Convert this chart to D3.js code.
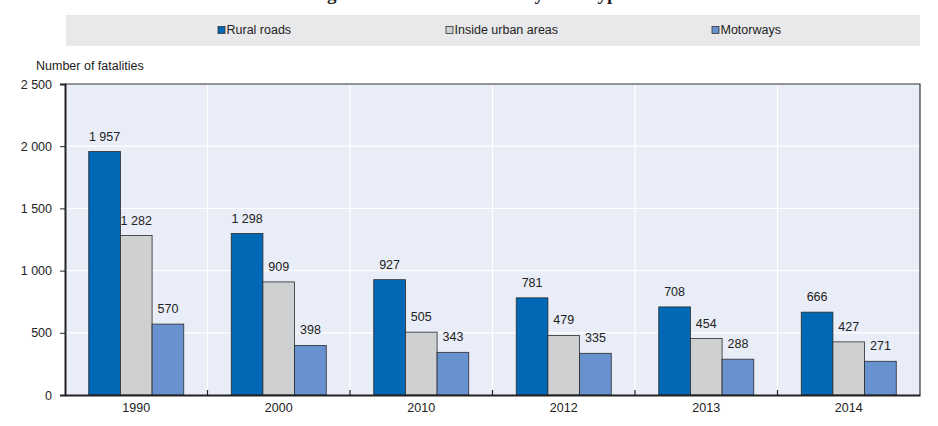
<!DOCTYPE html>
<html lang="en">
<head>
<meta charset="UTF-8">
<title>Road fatalities by road type</title>
<style>
    body { margin: 0; background: #fff; }
    svg text { font-family: "Liberation Sans", Arial, sans-serif; fill: #222; }
    svg text.title { font-family: "Liberation Serif", "DejaVu Serif", serif; font-weight: bold; }
</style>
</head>
<body>
<svg id="chart" width="938" height="426"></svg>
<script src="https://cdn.jsdelivr.net/npm/d3@7/dist/d3.min.js"></script>
<script>

var years = ["1990", "2000", "2010", "2012", "2013", "2014"];
var series = ["Rural roads", "Inside urban areas", "Motorways"];
var rural = [1957, 1298, 927, 781, 708, 666];
var urban = [1282, 909, 505, 479, 454, 427];
var motorways = [570, 398, 343, 335, 288, 271];
var yTicks = [0, 500, 1000, 1500, 2000, 2500];

var colors = ["#0068b5", "#cfd0d2", "#6892cf"];
var values = [rural, urban, motorways];

var svg = d3.select("#chart");
var mLeft = 65, mRight = 920, mTop = 84, mBottom = 395;

var fmt = function (d) {
    return d3.format(",")(d).replace(/,/g, " ");
};

// cut-off title at the very top (only descenders show)
svg.append("text")
    .attr("class", "title")
    .attr("x", 468)
    .attr("y", -0.5)
    .attr("text-anchor", "middle")
    .style("font-size", "19px")
    .text("Figure 4.3. Road fatalities by road type");

// legend
svg.append("rect")
    .attr("x", 66).attr("y", 15)
    .attr("width", 854).attr("height", 31)
    .attr("fill", "#e9e9eb");

var legendX = [218, 446, 712];
var leg = svg.selectAll(".leg")
    .data(series)
    .enter().append("g")
    .attr("class", "leg")
    .attr("transform", function (d, i) { return "translate(" + legendX[i] + ",30)"; });
leg.append("rect")
    .attr("x", 0).attr("y", -3.5)
    .attr("width", 7).attr("height", 7)
    .attr("fill", function (d, i) { return colors[i]; })
    .attr("stroke", "#333").attr("stroke-width", 0.8);
leg.append("text")
    .attr("x", 8.5).attr("dy", "0.35em")
    .style("font-size", "12.5px")
    .text(function (d) { return d; });

// scales
var x = d3.scaleBand().domain(years).range([mLeft, mRight]).padding(0);
var xi = d3.scaleBand().domain(series).range([0, x.bandwidth()]).paddingInner(0).paddingOuter(0.75);
var y = d3.scaleLinear().domain([0, 2500]).range([mBottom, mTop]);

// plot background
svg.append("rect")
    .attr("x", mLeft).attr("y", mTop)
    .attr("width", mRight - mLeft).attr("height", mBottom - mTop)
    .attr("fill", "#e9edf7");

// grid
svg.append("g").selectAll("line")
    .data(yTicks.slice(1, -1))
    .enter().append("line")
    .attr("x1", mLeft).attr("x2", mRight)
    .attr("y1", function (d) { return y(d); })
    .attr("y2", function (d) { return y(d); })
    .attr("stroke", "#fff").attr("stroke-width", 1.2);
svg.append("g").selectAll("line")
    .data(years.slice(1))
    .enter().append("line")
    .attr("x1", function (d) { return x(d); })
    .attr("x2", function (d) { return x(d); })
    .attr("y1", mTop).attr("y2", mBottom)
    .attr("stroke", "#fff").attr("stroke-width", 1.2);

// bars
var groups = svg.append("g").selectAll("g")
    .data(years)
    .enter().append("g")
    .attr("transform", function (d) { return "translate(" + x(d) + ",0)"; });

series.forEach(function (s, si) {
    groups.append("rect")
        .attr("x", function () { return xi(s); })
        .attr("y", function (d, i) { return y(values[si][i]); })
        .attr("width", xi.bandwidth())
        .attr("height", function (d, i) { return mBottom - y(values[si][i]); })
        .attr("fill", colors[si])
        .attr("stroke", "#2b2b2b").attr("stroke-width", 0.8);
    groups.append("text")
        .attr("x", function () { return xi(s) + xi.bandwidth() / 2; })
        .attr("y", function (d, i) { return y(values[si][i]) - 11; })
        .attr("text-anchor", "middle")
        .style("font-size", "12.5px")
        .text(function (d, i) { return fmt(values[si][i]); });
});

// frame top/right
svg.append("path")
    .attr("d", "M" + mLeft + "," + mTop + "H" + mRight + "V" + mBottom)
    .attr("fill", "none").attr("stroke", "#333").attr("stroke-width", 1.2);

// axes
var yAxis = svg.append("g")
    .attr("transform", "translate(" + mLeft + ",0)")
    .call(d3.axisLeft(y).tickValues(yTicks).tickSize(5).tickPadding(8).tickFormat(fmt));
yAxis.select(".domain").attr("stroke", "#222").attr("stroke-width", 2);
yAxis.selectAll(".tick line").attr("stroke", "#222");
yAxis.selectAll("text").style("font-size", "12.5px").attr("fill", "#222");

var xAxis = svg.append("g")
    .attr("transform", "translate(0," + mBottom + ")")
    .call(d3.axisBottom(x).tickSize(0).tickPadding(8));
xAxis.select(".domain").attr("stroke", "#222").attr("stroke-width", 2);
xAxis.selectAll("text").style("font-size", "12.5px").attr("fill", "#222");

// small separators between year groups
svg.append("g").selectAll("line")
    .data(years.slice(1))
    .enter().append("line")
    .attr("x1", function (d) { return x(d); })
    .attr("x2", function (d) { return x(d); })
    .attr("y1", mBottom).attr("y2", mBottom - 5)
    .attr("stroke", "#222").attr("stroke-width", 1.2);

svg.append("text")
    .attr("x", 36).attr("y", 70)
    .style("font-size", "12.5px")
    .text("Number of fatalities");

</script>
</body>
</html>
